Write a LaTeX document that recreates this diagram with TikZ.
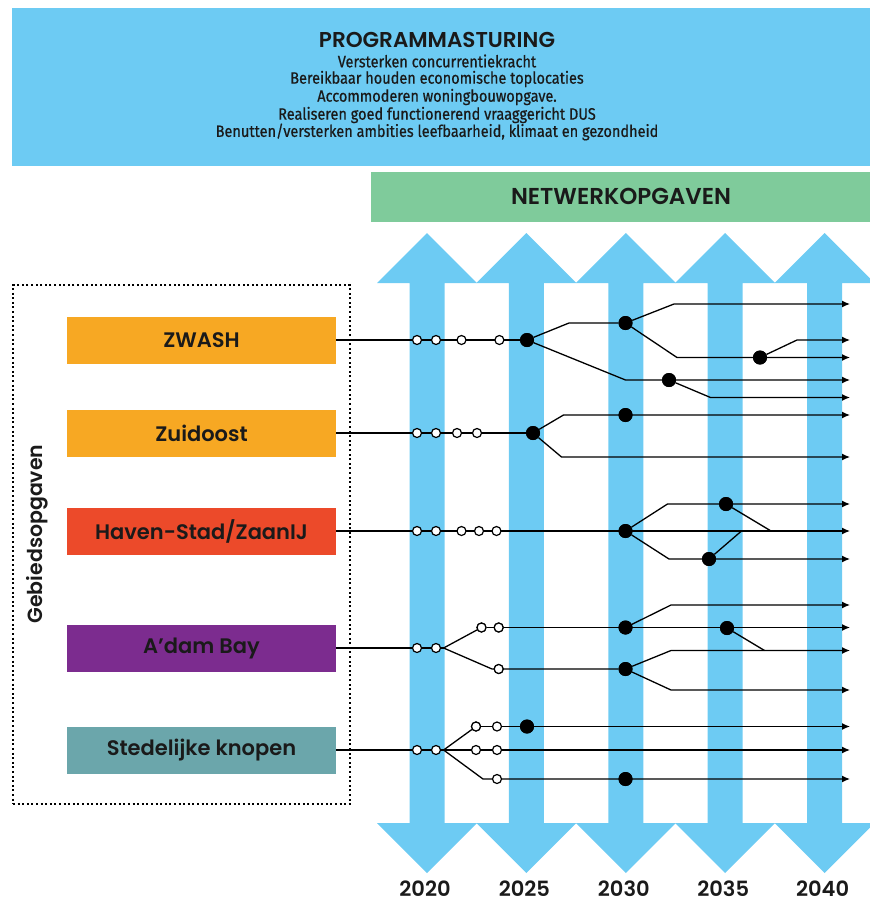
\documentclass[tikz,border=0pt]{standalone}
\usepackage{fontspec}
\setmainfont{Poppins}[BoldFont={Poppins SemiBold}]
\newfontfamily\topf{Fira Sans}[FakeStretch=0.88,FakeBold=0.6]
\usetikzlibrary{arrows.meta}
\definecolor{skyb}{HTML}{6DCBF3}
\definecolor{mint}{HTML}{7FCB9B}
\definecolor{zorange}{HTML}{F7A823}
\definecolor{zred}{HTML}{EC4A2A}
\definecolor{zpurple}{HTML}{7C2C8F}
\definecolor{zteal}{HTML}{6BA6AB}
\definecolor{ink}{HTML}{1A1A1A}
\begin{document}
\begin{tikzpicture}[x=1pt,y=-1pt,
  area/.style={minimum width=269pt,minimum height=47pt,inner sep=0pt,
    font=\bfseries\fontsize{21}{24}\selectfont,text=ink},
  ln/.style={draw=black,line width=1.3pt},
  arr/.style={ln,-{Latex[length=8pt,width=7pt]}},
  oc/.style={circle,draw=black,fill=white,line width=1.2pt,inner sep=0pt,minimum size=9pt},
  fc/.style={circle,fill=black,inner sep=0pt,minimum size=14pt},
  yr/.style={font=\bfseries\fontsize{21}{22}\selectfont,text=ink,inner sep=0pt},
  tl/.style={font=\topf\fontsize{16.5}{17}\selectfont,text=ink,inner sep=0pt}]
\useasboundingbox (0,0) rectangle (870,903);
% top banner
\node[fill=skyb,minimum width=858pt,minimum height=158pt,inner sep=0pt,anchor=north west] (prog) at (12,8) {};
\node[font=\bfseries\fontsize{21.5}{22}\selectfont,text=ink,inner sep=0pt] (t0) at (437,40) {PROGRAMMASTURING};
\node[tl] (t1) at (437,61) {Versterken concurrentiekracht};
\node[tl] (t2) at (437,79) {Bereikbaar houden economische toplocaties};
\node[tl] (t3) at (437,97) {Accommoderen woningbouwopgave.};
\node[tl] (t4) at (437,115) {Realiseren goed functionerend vraaggericht DUS};
\node[tl] (t5) at (437,132) {Benutten/versterken ambities leefbaarheid, klimaat en gezondheid};
% green banner
\node[fill=mint,minimum width=499pt,minimum height=50pt,inner sep=0pt,anchor=north west] (net) at (371,172) {};
\node[font=\bfseries\fontsize{23}{25}\selectfont,text=ink] (nettxt) at (621,196) {NETWERKOPGAVEN};
% time arrows
\foreach \i/\yy in {0/2020,1/2025,2/2030,3/2035,4/2040}{
  \pgfmathsetmacro{\cx}{427+99.4*\i}
  \fill[skyb] (\cx-17.5,283) -- (\cx-50,283) -- (\cx,233) -- (\cx+50,283) -- (\cx+17.5,283)
    -- (\cx+17.5,823) -- (\cx+50,823) -- (\cx,873) -- (\cx-50,823) -- (\cx-17.5,823) -- cycle;
  \node[yr] (y\yy) at (\cx-2,889) {\yy};
}
% area box
\node[draw=black,line width=2pt,dash pattern=on 2pt off 2.6pt,minimum width=337pt,minimum height=519pt,inner sep=0pt,anchor=north west] (geb) at (12,284) {};
\node[rotate=90,font=\bfseries\fontsize{20.5}{24}\selectfont,text=ink] (gebtxt) at (37,534) {Gebiedsopgaven};
\node[area,fill=zorange] (zwash) at (201.5,340) {ZWASH};
\node[area,fill=zorange] (zuid) at (201.5,433) {Zuidoost};
\node[area,fill=zred] (haven) at (201.5,531) {Haven-Stad/ZaanIJ};
\node[area,fill=zpurple] (adam) at (201.5,648) {A'dam Bay};
\node[area,fill=zteal] (sted) at (201.5,750) {Stedelijke knopen};
% coordinates
\foreach \n/\x/\y in {
  r1a/569/323, r1b/674/304, r1c/677/357.5, r1d/797/340, r1f/625.5/380, r1g/710.5/397.5,
  e1a/850/304, e1b/850/340, e1c/850/357.5, e1d/850/380, e1e/850/397.5,
  r2a/563.5/415, r2b/561.5/457, e2a/850/415, e2b/850/457,
  r3a/667.5/504, r3b/669/559, r3c/771/531, r3d/741.5/531, e3a/850/504, e3b/850/531, e3c/850/559,
  r4p/443.6/648, r4a/671/605, r4b/764.5/650.5, r4c/492/669, r4d/671/650.5, r4e/671/690,
  e4a/850/605, e4b/850/627.5, e4c/850/650.5, e4d/850/690,
  r5p/443.6/750, r5b/483/779, e5a/850/726.5, e5b/850/750, e5c/850/779}
  {\coordinate (\n) at (\x,\y);}
% dots
\foreach \n/\x/\y in {A/527/340, B/625.5/323, C/760/357.5, D/669/380,
  E/533/433, F/625.5/415, G/625.5/531, H/726/504, I/709/559,
  J/625.5/627.5, K/727/628, L/625.5/669, M/527/726.5, N/625.5/779}
  {\node[fc] (\n) at (\x,\y) {};}
% lines row 1
\draw[ln] (zwash.east) -- (A);
\draw[ln] (A) -- (r1a) -- (B);
\draw[arr] (B) -- (r1b) -- (e1a);
\draw[arr] (B) -- (r1c) -- (e1c);
\draw[arr] (C) -- (r1d) -- (e1b);
\draw[arr] (A) -- (r1f) -- (e1d);
\draw[arr] (D) -- (r1g) -- (e1e);
% row 2
\draw[ln] (zuid.east) -- (E);
\draw[arr] (E) -- (r2a) -- (e2a);
\draw[arr] (E) -- (r2b) -- (e2b);
% row 3
\draw[arr] (haven.east) -- (e3b);
\draw[arr] (G) -- (r3a) -- (e3a);
\draw[ln] (H) -- (r3c);
\draw[arr] (G) -- (r3b) -- (e3c);
\draw[ln] (I) -- (r3d);
% row 4
\draw[ln] (adam.east) -- (r4p);
\node[oc] (p4a) at (481.5,627.5) {};
\node[oc] (p4b) at (498.7,627.5) {};
\node[oc] (p4c) at (498.7,669) {};
\draw[ln] (r4p) -- (p4a);
\draw[arr] (p4a) -- (e4b);
\draw[arr] (J) -- (r4a) -- (e4a);
\draw[ln] (K) -- (r4b);
\draw[ln] (r4p) -- (r4c) -- (L);
\draw[arr] (L) -- (r4d) -- (e4c);
\draw[arr] (L) -- (r4e) -- (e4d);
% row 5
\node[oc] (p5a) at (476,726.5) {};
\draw[arr] (sted.east) -- (e5b);
\draw[ln] (r5p) -- (p5a);
\draw[arr] (p5a) -- (e5a);
\draw[arr] (r5p) -- (r5b) -- (e5c);
% open circles
\foreach \n/\x/\y in {o11/417/340, o12/436/340, o13/461.5/340, o14/499.4/340,
  o21/417/433, o22/436/433, o23/457/433, o24/477/433,
  o31/417/531, o32/436/531, o33/461.5/531, o34/479/531, o35/496.5/531,
  o41/417/648, o42/436/648,
  o51/417/750, o52/436/750, o53/476/750, o54/497/750, o55/497/726.5, o56/497/779}
  {\node[oc] (\n) at (\x,\y) {};}
\node[oc] at (p4a) {};
\node[oc] at (p4b) {};
\node[oc] at (p4c) {};
\node[oc] at (p5a) {};
% redraw filled dots on top
\foreach \n in {A,B,C,D,E,F,G,H,I,J,K,L,M,N}{\node[fc] at (\n) {};}
\end{tikzpicture}
\end{document}
